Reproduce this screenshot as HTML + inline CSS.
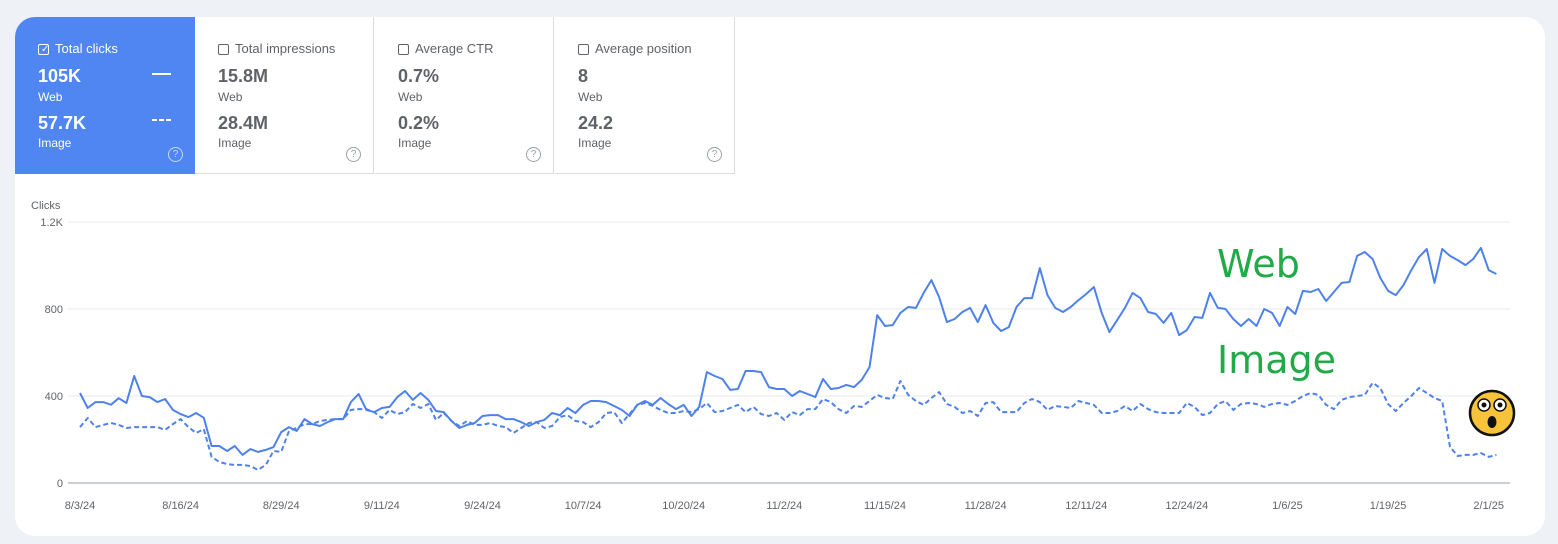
<!DOCTYPE html>
<html><head><meta charset="utf-8">
<style>
html,body{margin:0;padding:0;width:1558px;height:544px;background:#eef1f6;overflow:hidden;font-family:"Liberation Sans",Arial,sans-serif;}
#card{position:absolute;left:15px;top:17px;width:1530px;height:519px;background:#fff;border-radius:20px;overflow:hidden;}
.tile{position:absolute;top:0;height:157px;width:179px;border-right:1px solid #dadce0;border-bottom:1px solid #dadce0;box-sizing:border-box;color:#5f6368;}
.tile .hdr{position:absolute;left:23px;top:24px;font-size:13px;}
.cb{display:inline-block;width:11px;height:11px;border:1px solid #5f6368;border-radius:2px;vertical-align:-2px;margin-right:6px;box-sizing:border-box;}
.tile .v{position:absolute;left:23px;font-size:18px;font-weight:bold;}
.tile .l{position:absolute;left:23px;font-size:12px;}
.tile .q{position:absolute;right:12px;top:130px;width:13px;height:13px;border:1px solid #9aa0a6;border-radius:50%;font-size:10px;line-height:13px;text-align:center;color:#9aa0a6;}
#t1{left:0;background:#4f86f2;color:#fff;border:none;width:180px;}
#t1 .cb{border-color:#fff;background:#4f86f2;}
#t1 .q{border-color:#c8d9fb;color:#c8d9fb;}
</style></head><body>
<div id="card">
 <div class="tile" id="t1">
  <div class="hdr"><span class="cb" style="position:relative"><span style="position:absolute;left:2px;top:-1px;font-size:10px;color:#fff">✓</span></span>Total clicks</div>
  <div class="v" style="top:49px">105K</div><div class="l" style="top:73px">Web</div>
  <div style="position:absolute;left:137px;top:56px;width:19px;height:2px;background:#fff"></div>
  <div class="v" style="top:96px">57.7K</div><div class="l" style="top:119px">Image</div>
  <div style="position:absolute;left:137px;top:102px;width:19px;height:2px;background:repeating-linear-gradient(90deg,#fff 0 5px,transparent 5px 7px)"></div>
  <div class="q">?</div>
 </div>
 <div class="tile" style="left:180px">
  <div class="hdr"><span class="cb"></span>Total impressions</div>
  <div class="v" style="top:49px">15.8M</div><div class="l" style="top:73px">Web</div>
  <div class="v" style="top:96px">28.4M</div><div class="l" style="top:119px">Image</div>
  <div class="q">?</div>
 </div>
 <div class="tile" style="left:360px">
  <div class="hdr"><span class="cb"></span>Average CTR</div>
  <div class="v" style="top:49px">0.7%</div><div class="l" style="top:73px">Web</div>
  <div class="v" style="top:96px">0.2%</div><div class="l" style="top:119px">Image</div>
  <div class="q">?</div>
 </div>
 <div class="tile" style="left:540px;width:180px">
  <div class="hdr"><span class="cb"></span>Average position</div>
  <div class="v" style="top:49px">8</div><div class="l" style="top:73px">Web</div>
  <div class="v" style="top:96px">24.2</div><div class="l" style="top:119px">Image</div>
  <div class="q">?</div>
 </div>
</div>
<svg id="chart" width="1558" height="544" style="position:absolute;left:0;top:0"></svg>
<script>
const xLabels=["8/3/24","8/16/24","8/29/24","9/11/24","9/24/24","10/7/24","10/20/24","11/2/24","11/15/24","11/28/24","12/11/24","12/24/24","1/6/25","1/19/25","2/1/25"];
const yTicks=[0,400,800,1200];
const yTickLabels=["0","400","800","1.2K"];
const webClicks=[414,345,372,372,360,390,368,492,400,395,372,386,336,317,303,322,300,170,170,147,170,129,156,143,152,165,234,257,239,294,271,262,280,294,294,372,409,336,326,345,350,395,423,382,414,382,331,326,285,253,267,276,308,312,312,294,294,280,262,280,290,322,312,345,322,359,377,377,372,354,336,308,359,377,359,391,363,340,359,308,350,510,492,478,428,432,515,515,510,441,432,432,400,423,409,395,478,432,437,451,441,474,533,772,722,726,782,809,805,874,933,855,740,754,786,805,740,818,736,699,717,809,850,850,988,864,805,786,809,841,869,901,782,694,749,805,874,850,786,777,736,782,680,703,763,759,874,805,800,754,722,754,722,800,782,722,809,777,883,878,892,837,878,920,924,1044,1062,1030,943,883,864,910,979,1039,1076,920,1076,1044,1025,1002,1030,1081,979,961];
const imageClicks=[257,299,257,267,276,267,253,257,257,257,257,244,271,294,257,230,248,120,97,87,83,83,78,60,83,147,143,239,253,271,271,285,290,294,294,336,340,340,326,299,336,317,326,363,345,363,290,322,285,262,285,267,267,276,262,257,230,253,276,280,253,262,303,312,285,280,257,280,322,326,276,317,359,368,354,336,322,322,331,326,340,368,326,331,345,359,326,350,317,308,322,290,326,312,340,340,386,372,340,322,354,350,377,405,391,386,469,405,377,359,391,418,363,350,322,331,308,368,372,326,326,326,368,386,372,336,354,350,345,377,368,359,322,322,331,354,331,363,340,326,322,322,322,368,350,312,322,363,377,336,363,368,363,350,363,368,359,377,400,414,405,359,340,382,395,400,405,460,437,363,331,368,400,437,414,391,377,166,124,129,129,138,120,129];
const svg=document.getElementById('chart');
const NS='http://www.w3.org/2000/svg';
const X0=80,DX=7.74,Y0=483,YS=261/1200;
const xs=i=>X0+i*DX, ys=v=>Y0-v*YS;
function mk(t,a,txt){const e=document.createElementNS(NS,t);for(const k in a)e.setAttribute(k,a[k]);if(txt!==undefined)e.textContent=txt;svg.appendChild(e);return e;}
let t=mk('text',{x:31,y:209,'font-size':11,fill:'#5f6368','font-family':'Liberation Sans, sans-serif'},'Clicks');


yTicks.forEach((v,i)=>{
 const g=mk('line',{x1:68,x2:1510,y1:ys(v),y2:ys(v),stroke:v===0?'#9aa0a6':'#e8eaed','stroke-width':1});
 
 
 const l=mk('text',{x:63,y:ys(v)+4,'text-anchor':'end','font-size':11,fill:'#5f6368','font-family':'Liberation Sans, sans-serif'},yTickLabels[i]);
 
 
});
xLabels.forEach((s,i)=>{
 const l=mk('text',{x:xs(i*13),y:509,'text-anchor':'middle','font-size':11,fill:'#5f6368','font-family':'Liberation Sans, sans-serif'},s);
 
 
});
function path(arr,dash,name){
 const d=arr.map((v,i)=>(i?'L':'M')+xs(i).toFixed(1)+' '+ys(v).toFixed(1)).join(' ');
 const p=mk('path',{d:d,fill:'none',stroke:'#4e82ea','stroke-width':2,'stroke-linejoin':'round'});
 if(dash)p.setAttribute('stroke-dasharray','5 3');
 
 
}
path(imageClicks,true,'image-clicks-line');
path(webClicks,false,'web-clicks-line');
let a=mk('text',{x:1217,y:277,'font-size':38,fill:'#22aa48','font-family':'DejaVu Sans, sans-serif'},'Web');


a=mk('text',{x:1217,y:373,'font-size':38,fill:'#22aa48','font-family':'DejaVu Sans, sans-serif'},'Image');


const g=mk('g',{});


[['circle',{cx:1492,cy:413,r:22,fill:'#f6c33a',stroke:'#111','stroke-width':2.5}],
 ['circle',{cx:1484,cy:405,r:6,fill:'#fff',stroke:'#111','stroke-width':1.5}],
 ['circle',{cx:1500,cy:405,r:6,fill:'#fff',stroke:'#111','stroke-width':1.5}],
 ['circle',{cx:1484,cy:405,r:2.5,fill:'#111'}],
 ['circle',{cx:1500,cy:405,r:2.5,fill:'#111'}],
 ['ellipse',{cx:1492,cy:422,rx:4.5,ry:6,fill:'#111'}]].forEach(([tg,at])=>{const e=document.createElementNS(NS,tg);for(const k in at)e.setAttribute(k,at[k]);g.appendChild(e);});
</script>
</body></html>
